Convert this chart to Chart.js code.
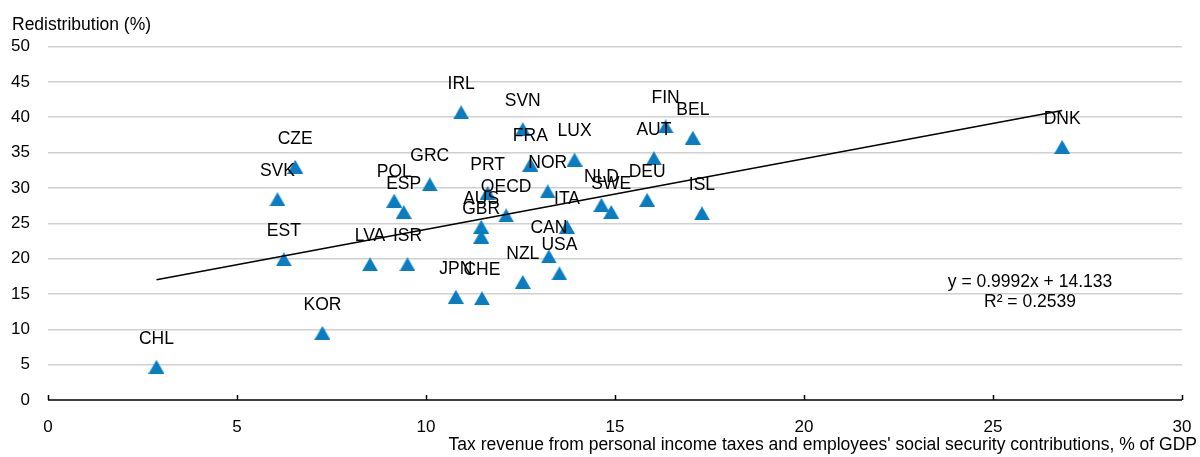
<!DOCTYPE html>
<html>
<head>
<meta charset="utf-8">
<script src="https://cdn.jsdelivr.net/npm/chart.js@4/dist/chart.umd.min.js"></script>
<style>
  body { margin: 0; background: #fff; }
  #wrap { width: 1200px; height: 457px; }
</style>
</head>
<body>
<div id="wrap"><canvas id="chart" width="1200" height="457"></canvas></div>
<script>
"use strict"

// data
const countries = ["CHL", "KOR", "EST", "SVK", "CZE", "LVA", "POL", "ESP", "ISR", "GRC", "JPN",
  "IRL", "CHE", "AUS", "GBR", "PRT", "OECD", "SVN", "NZL", "FRA", "NOR", "CAN", "USA", "ITA",
  "LUX", "NLD", "SWE", "DEU", "AUT", "FIN", "BEL", "ISL", "DNK"]
const taxRevenue = [2.87, 7.26, 6.24, 6.07, 6.54, 8.52, 9.16, 9.41, 9.51, 10.1, 10.79,
  10.93, 11.48, 11.46, 11.46, 11.63, 12.12, 12.56, 12.56, 12.76, 13.22, 13.25, 13.53, 13.73,
  13.93, 14.64, 14.9, 15.85, 16.03, 16.34, 17.06, 17.3, 26.83]
const redistribution = [4.7, 9.5, 19.9, 28.4, 33.0, 19.2, 28.2, 26.6, 19.2, 30.5, 14.6,
  40.7, 14.4, 24.5, 23.1, 29.3, 26.1, 38.3, 16.7, 33.3, 29.5, 20.3, 17.9, 24.5,
  34.0, 27.6, 26.6, 28.3, 34.2, 38.7, 37.1, 26.4, 35.8]

// linear trend end points
const trendX = [2.87, 26.83]
const trendY = [17.0, 40.94]
const trendText = ["y = 0.9992x + 14.133", "R\u00b2 = 0.2539"]

const yTitle = "Redistribution (%)"
const xTitle = "Tax revenue from personal income taxes and employees' social security contributions, % of GDP"

const FONT = "'Liberation Sans', Arial, sans-serif"
const BLUE = "#0a7cc2"

// triangle marker as an image so its box is centred on the point
const marker = document.createElement("canvas")
marker.width = 16
marker.height = 14
const mctx = marker.getContext("2d")
mctx.fillStyle = BLUE
mctx.beginPath()
mctx.moveTo(8, 0)
mctx.lineTo(16, 14)
mctx.lineTo(0, 14)
mctx.closePath()
mctx.fill()

const points = taxRevenue.map((x, i) => ({ x: x, y: redistribution[i] }))
const trendPoints = trendX.map((x, i) => ({ x: x, y: trendY[i] }))

const extras = {
  id: "extras",
  afterDatasetsDraw(chart) {
    const ctx = chart.ctx
    const xs = chart.scales.x
    const ys = chart.scales.y
    const area = chart.chartArea
    ctx.save()

    // x axis line with ticks pointing up
    ctx.strokeStyle = "#000"
    ctx.lineWidth = 1.5
    ctx.beginPath()
    ctx.moveTo(area.left, area.bottom)
    ctx.lineTo(area.right, area.bottom)
    xs.ticks.forEach((t) => {
      const px = Math.round(xs.getPixelForValue(t.value)) + 0.5
      ctx.moveTo(px, area.bottom)
      ctx.lineTo(px, area.bottom - 5)
    })
    ctx.stroke()

    ctx.fillStyle = "#000"
    ctx.font = "17.5px " + FONT

    // country labels
    ctx.textAlign = "center"
    ctx.textBaseline = "middle"
    countries.forEach((c, i) => {
      const px = xs.getPixelForValue(taxRevenue[i])
      const py = ys.getPixelForValue(redistribution[i])
      ctx.fillText(c, px, py - 28)
    })

    // trend equation
    ctx.fillText(trendText[0], 1030, 282)
    ctx.fillText(trendText[1], 1030, 302)

    // axis titles
    ctx.textAlign = "left"
    ctx.fillText(yTitle, 12, 25)
    ctx.textAlign = "right"
    ctx.fillText(xTitle, 1197, 445)
    ctx.restore()
  },
}

new Chart(document.getElementById("chart"), {
  type: "scatter",
  data: {
    datasets: [
      {
        data: points,
        pointStyle: marker,
        pointRadius: 8,
        pointHoverRadius: 8,
        order: 1,
      },
      {
        type: "line",
        data: trendPoints,
        borderColor: "#000",
        borderWidth: 1.5,
        pointRadius: 0,
        fill: false,
        order: 0,
      },
    ],
  },
  options: {
    responsive: false,
    animation: false,
    events: [],
    layout: { padding: { top: 46.5, right: 18, bottom: 0, left: 0 } },
    plugins: {
      legend: { display: false },
      tooltip: { enabled: false },
    },
    scales: {
      x: {
        type: "linear",
        min: 0,
        max: 30,
        afterFit(scale) {
          scale.height = 57
          scale.paddingLeft = 0
          scale.paddingRight = 0
        },
        border: { display: false },
        grid: { display: false, drawTicks: false },
        ticks: {
          stepSize: 5,
          padding: 17,
          color: "#000",
          font: { size: 17, family: FONT },
          maxRotation: 0,
        },
      },
      y: {
        min: 0,
        max: 50,
        afterFit(scale) {
          scale.width = 48
          scale.paddingTop = 0
          scale.paddingBottom = 0
        },
        border: { display: false },
        grid: {
          color: (c) => (c.tick.value === 0 ? "rgba(0,0,0,0)" : "#d0d0d0"),
          lineWidth: 1.5,
          drawTicks: false,
        },
        ticks: {
          stepSize: 5,
          padding: 18,
          color: "#000",
          font: { size: 17, family: FONT },
        },
      },
    },
  },
  plugins: [extras],
})
</script>
</body>
</html>
